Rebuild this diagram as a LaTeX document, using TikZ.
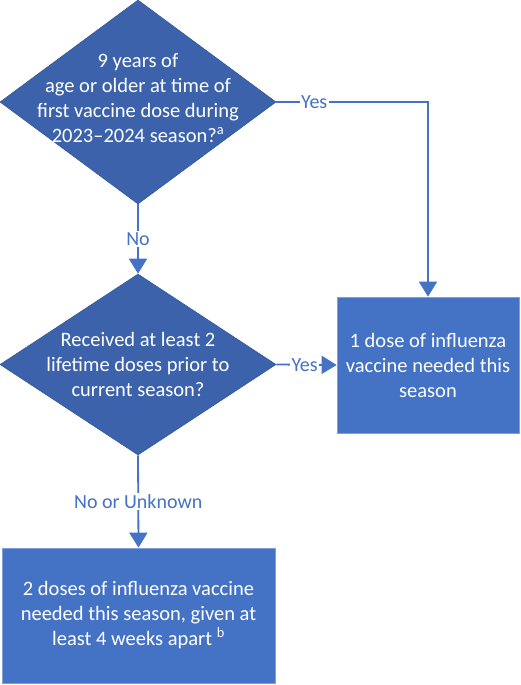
\documentclass[tikz,border=0pt]{standalone}
\usepackage{fontspec}
\setmainfont{Carlito}
\usetikzlibrary{shapes.geometric,arrows.meta}
\definecolor{dfill}{HTML}{3B62AA}
\definecolor{dline}{HTML}{34599C}
\definecolor{bfill}{HTML}{4472C4}
\definecolor{bline}{HTML}{7F9FD8}
\definecolor{conn}{HTML}{4472C4}
\begin{document}
\begin{tikzpicture}[x=1pt,y=-1pt,
  decision/.style={diamond,fill=dfill,draw=dline,line width=0.6pt,inner sep=0pt,aspect=1},
  outcome/.style={rectangle,fill=bfill,draw=bline,line width=0.7pt,inner sep=0pt},
  body/.style={text=white,align=center,font=\fontsize{20.5}{25}\selectfont},
  lbl/.style={fill=white,text=conn,inner sep=1.5pt,font=\fontsize{20}{22}\selectfont},
  arr/.style={draw=conn,line width=1.8pt,-{Triangle[width=18pt,length=15pt]}}]
\useasboundingbox (0,0) rectangle (520,685);
\node[decision,minimum width=276pt,minimum height=204pt] (d1) at (138,102) {};
\node[body] (d1t) at (138,98) {9 years of\\age or older at time of\\first vaccine dose during\\2023–2024 season?\textsuperscript{a}};
\node[decision,minimum width=276pt,minimum height=181pt] (d2) at (138,364.5) {};
\node[body] (d2t) at (138,364) {Received at least 2\\lifetime doses prior to\\current season?};
\node[outcome,minimum width=182pt,minimum height=136pt] (b1) at (428,365) {};
\node[body] (b1t) at (428,365) {1 dose of influenza\\vaccine needed this\\season};
\node[outcome,minimum width=273pt,minimum height=135pt] (b2) at (138.5,615.5) {};
\node[body] (b2t) at (138.5,615) {2 doses of influenza vaccine\\needed this season, given at\\least 4 weeks apart \textsuperscript{b}};
\draw[arr] (d1.south) -- node[lbl]{No} (d2.north);
\draw[arr] (d1.east) -- node[lbl,pos=0.25]{Yes} (d1.east -| b1.north) -- (b1.north);
\draw[arr] (d2.east) -- node[lbl,pos=0.47]{Yes} (b1.west);
\draw[arr] (d2.south) -- node[lbl]{No or Unknown} (b2.north);
\end{tikzpicture}
\end{document}
